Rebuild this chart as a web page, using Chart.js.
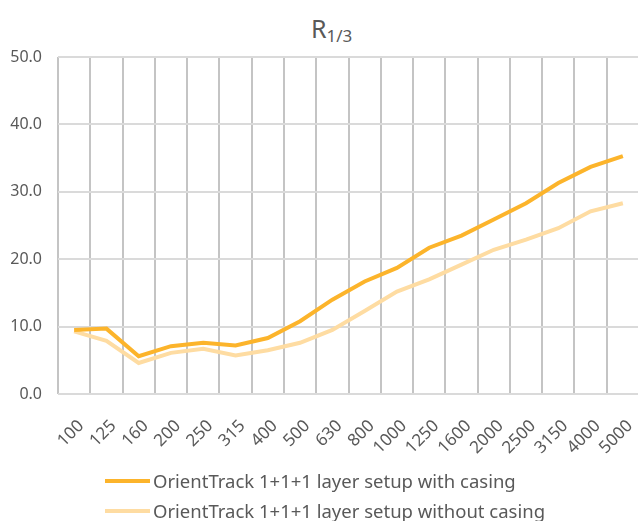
<!DOCTYPE html>
<html>
<head>
<meta charset="utf-8">
<script src="https://cdn.jsdelivr.net/npm/chart.js@4/dist/chart.umd.min.js"></script>
<style>
    html, body { margin: 0; padding: 0; background: #fff; overflow: hidden; }
    body { width: 638px; height: 521px; position: relative; font-family: "Noto Sans", sans-serif; color: #595959; }
    #r13-title { position: absolute; left: 311px; top: 16px; font-size: 25px; line-height: 25px; white-space: nowrap; }
    #r13-title span { font-size: 17px; position: relative; top: 4px; }
    #r13-wrap { position: absolute; left: 0; top: 0; }
    .legend-row { position: absolute; left: 105px; height: 20px; line-height: 20px; font-size: 18.5px; display: flex; align-items: center; white-space: nowrap; }
    .legend-row i { display: inline-block; width: 45px; height: 4px; margin-right: 3px; }
</style>
</head>
<body>
<div id="r13-title">R<span>1/3</span></div>
<div id="r13-wrap"><canvas id="r13Chart" width="660" height="470"></canvas></div>
<div id="r13-legend"></div>

<script>
// third-octave bands (Hz)
var bands = ['100', '125', '160', '200', '250', '315', '400', '500', '630', '800',
             '1000', '1250', '1600', '2000', '2500', '3150', '4000', '5000'];

var withCasing    = [9.5, 9.7, 5.6, 7.1, 7.6, 7.2, 8.3, 10.8, 14.0, 16.7,
                     18.7, 21.7, 23.5, 25.9, 28.3, 31.3, 33.7, 35.3];
var withoutCasing = [9.3, 7.9, 4.6, 6.1, 6.7, 5.7, 6.5, 7.6, 9.5, 12.3,
                     15.2, 17.0, 19.2, 21.4, 22.9, 24.6, 27.1, 28.3];

var seriesNames = ['OrientTrack 1+1+1 layer setup with casing',
                   'OrientTrack 1+1+1 layer setup without casing'];

var yMin = 0, yMax = 50, yStep = 10;

window.acoustic = window.acoustic || {};
window.acoustic.R13Chart = function() {
    var self = {};

    var init = function() {
        self.chartEl = document.getElementById('r13Chart');
        self.legendEl = document.getElementById('r13-legend');
        self.colors = ['#fcb42b', '#fedca2'];

        renderChart();
        renderLegend();
    };

    var renderChart = function() {
        var family = '"Noto Sans", sans-serif';

        self.chart = new Chart(self.chartEl, {
            type: 'line',
            data: {
                labels: bands,
                datasets: [{
                    label: seriesNames[0],
                    data: withCasing,
                    borderColor: self.colors[0],
                    borderWidth: 4,
                    pointRadius: 0,
                    tension: 0
                }, {
                    label: seriesNames[1],
                    data: withoutCasing,
                    borderColor: self.colors[1],
                    borderWidth: 4,
                    pointRadius: 0,
                    tension: 0
                }]
            },
            options: {
                responsive: false,
                animation: false,
                devicePixelRatio: 1,
                layout: { padding: { top: 57, right: 21, left: 0, bottom: 0 } },
                plugins: {
                    legend: { display: false },
                    title: { display: false },
                    tooltip: { enabled: false }
                },
                scales: {
                    x: {
                        offset: true,
                        grid: { offset: true, color: '#c4c4c4', lineWidth: 2, drawTicks: false },
                        border: { display: false },
                        ticks: {
                            color: '#595959',
                            font: { family: family, size: 17 },
                            minRotation: 45, maxRotation: 45,
                            padding: 22,
                            labelOffset: 7, // rotated labels get pulled left, push them back under the band
                            autoSkip: false
                        },
                        afterFit: function(scale) { scale.height = 76; }
                    },
                    y: {
                        min: yMin,
                        max: yMax,
                        grid: { color: '#dadada', lineWidth: 2, drawTicks: false },
                        border: { display: false },
                        ticks: {
                            stepSize: yStep,
                            color: '#595959',
                            font: { family: family, size: 16 },
                            padding: 16,
                            callback: function(v) { return v.toFixed(1); }
                        },
                        afterFit: function(scale) { scale.width = 58; }
                    }
                }
            }
        });
    };

    var renderLegend = function() {
        var tops = [471, 501];
        seriesNames.forEach(function(name, i) {
            var row = document.createElement('div');
            row.className = 'legend-row';
            row.style.top = tops[i] + 'px';
            row.innerHTML = '<i style="background:' + self.colors[i] + '"></i>' + name;
            self.legendEl.appendChild(row);
        });
    };

    return { init: init };
}();

window.acoustic.R13Chart.init();
</script>
</body>
</html>
